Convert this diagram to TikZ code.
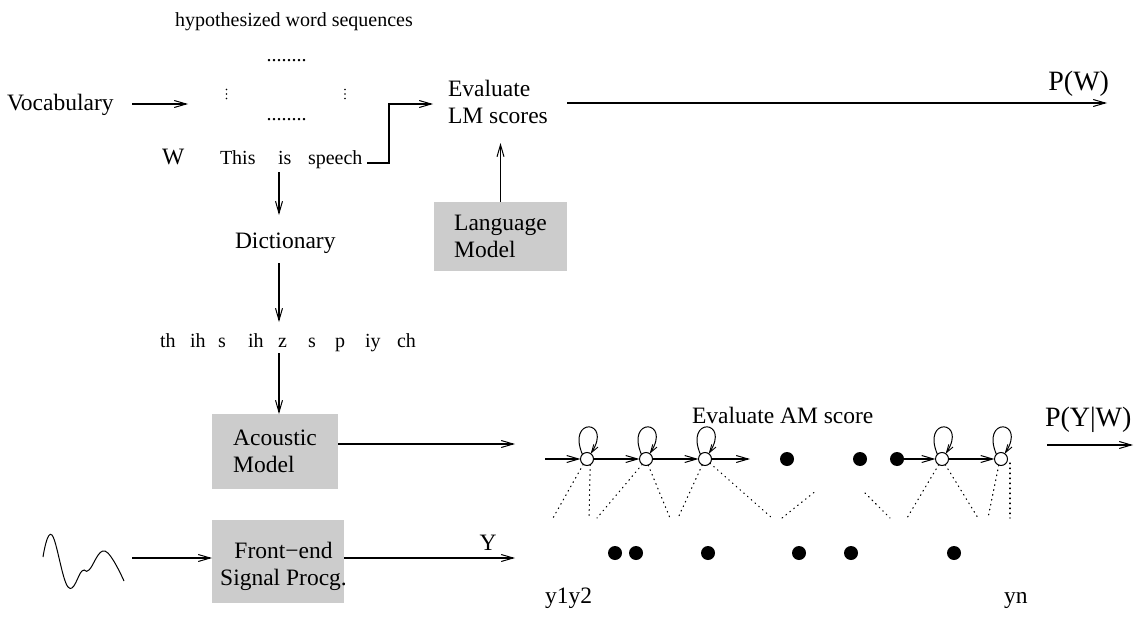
\documentclass[tikz,border=0pt]{standalone}
\usepackage{fontspec}
\setmainfont{Liberation Serif}
\usetikzlibrary{arrows.meta}
\definecolor{boxgray}{gray}{0.8}
\begin{document}
\begin{tikzpicture}[x=1pt,y=-1pt,
  every node/.style={inner sep=0pt,outer sep=0pt},
  big/.style={font=\fontsize{23.5}{27}\selectfont},
  prob/.style={font=\fontsize{28}{30}\selectfont},
  small/.style={font=\fontsize{20}{22}\selectfont},
  wire/.style={line width=1.1pt},
  conn/.style={wire,-{Straight Barb[length=12pt,width=7pt,line width=1pt]}},
  loopconn/.style={line width=1pt,-{Straight Barb[length=8pt,width=5pt,line width=0.9pt]}},
  gbox/.style={fill=boxgray,minimum width=#1},
  obs/.style={dash pattern=on 0.8pt off 4.2pt,line width=1.1pt,line cap=round},
  state/.style={circle,draw,line width=1pt,minimum size=13pt,fill=white},
  blob/.style={circle,fill=black,minimum size=14pt},
  tinydot/.style={circle,fill=black,minimum size=1.6pt},
]
\useasboundingbox (0,0) rectangle (1137,623);

% ---------- word hypotheses ----------
\node[small,anchor=base] (hyp) at (294,27) {hypothesized word sequences};
\node[small,anchor=base] (dtop) at (286.5,62) {........};
\foreach \x/\s in {226.5/l,345/r}
  \foreach \y [count=\k] in {89.5,94,98.5}
    \node[tinydot] (v\s\k) at (\x,\y) {};
\node[small,anchor=base] (dbot) at (286.5,121) {........};
\node[big,anchor=base west] (vocab) at (7,111) {Vocabulary};
\node[big,anchor=base west] (W) at (162,164) {W};
\node[small,anchor=base west] (this) at (220,164) {This};
\node[small,anchor=base west] (is) at (278,164) {is};
\node[small,anchor=base west] (speech) at (308,164) {speech};

\coordinate (vocout) at (132,104);
\coordinate (hypin) at (188,104);
\draw[conn] (vocout) -- (hypin);

% ---------- language model branch ----------
\node[big,align=left,anchor=west] (evlm) at (448,102) {Evaluate\\LM scores};
\node[big,gbox=133pt,minimum height=69pt,align=left] (lm) at (500.5,236.5) {Language\\Model};
\coordinate (spout) at (367,163);
\coordinate (bend) at (389,104);
\coordinate (evin) at (433,104);
\draw[conn] (spout) -| (bend) -- (evin);
\coordinate (evup) at (500.5,143);
\draw[conn] (lm.north) -- (evup);
\coordinate (evout) at (567,103);
\coordinate (pwend) at (1107,103);
\draw[conn] (evout) -- (pwend);
\node[prob,anchor=base east] (pw) at (1109,91) {P(W)};

% ---------- pronunciation ----------
\node[big,anchor=base west] (dict) at (235,248) {Dictionary};
\coordinate (isdown) at (279,172);
\coordinate (dictin) at (279,215);
\draw[conn] (isdown) -- (dictin);
\coordinate (dictout) at (279,263);
\coordinate (phin) at (279,322);
\draw[conn] (dictout) -- (phin);
\foreach \p/\x [count=\i] in {th/160,ih/190,s/218,ih/248,z/278,s/308,p/335,iy/365,ch/397}
  \node[small,anchor=base west] (ph\i) at (\x,347) {\p};
\coordinate (phout) at (279,353);

% ---------- acoustic model and front end ----------
\node[big,gbox=126pt,minimum height=75pt,align=left] (am) at (275,451.5) {Acoustic\\Model};
\draw[conn] (phout) -- (phout |- am.north);
\coordinate (amout) at (338,444);
\coordinate (amend) at (515,444);
\draw[conn] (amout) -- (amend);

\node[gbox=132pt,minimum height=83pt] (fe) at (278,561.5) {};
\node[big,align=center] (fetext) at (283.5,566) {Front−end\\Signal Procg.};
\draw[line width=1pt] plot[smooth,tension=0.7] coordinates
  {(43,557) (52,535) (68,587) (82,571) (89,570) (105,551) (124,581)};
\coordinate (wavout) at (132,558);
\draw[conn] (wavout) -- (wavout -| fe.west);
\coordinate (feout) at (344,558);
\coordinate (yend) at (515,558);
\draw[conn] (feout) -- (yend);
\node[big,anchor=base] (Y) at (488,550) {Y};

% ---------- HMM alignment ----------
\node[big,anchor=base west] (evam) at (692,423) {Evaluate AM score};
\foreach \n/\x in {s1/587,s2/646,s3/705,s4/942,s5/1001}
  \node[state] (\n) at (\x,459) {};
\foreach \n/\x in {d1/787,d2/860,d3/897}
  \node[blob] (\n) at (\x,459) {};
\coordinate (hmmin) at (545,459);
\coordinate (s3out) at (750,459);
\draw[conn] (hmmin) -- (s1);
\draw[conn] (s1) -- (s2);
\draw[conn] (s2) -- (s3);
\draw[conn] (s3) -- (s3out);
\draw[conn] (d3) -- (s4);
\draw[conn] (s4) -- (s5);
\foreach \n in {s1,s2,s3,s4,s5}
  \draw[loopconn] (\n.135) .. controls +(-16,-38) and +(22,-34) .. (\n.55);

\coordinate (pywout) at (1047,445);
\coordinate (pywend) at (1133,445);
\draw[conn] (pywout) -- (pywend);
\node[prob,anchor=base west] (pyw) at (1045,426) {P(Y|W)};

% observation frames
\foreach \x [count=\i] in {615,636,708,799,851,954}
  \node[blob] (b\i) at (\x,553) {};
\node[big,anchor=base west] (y12) at (545,603) {y1y2};
\node[big,anchor=base west] (yn) at (1004,603) {yn};

% dotted state-to-frame alignments
\coordinate (o1) at (553,518);  \coordinate (o2) at (589,518);
\coordinate (o3) at (597,518);  \coordinate (o4) at (670,518);
\coordinate (o5) at (678,518);  \coordinate (o6) at (772,518);
\coordinate (o7) at (782,518);  \coordinate (o8) at (817,490);
\coordinate (o9) at (865,493);  \coordinate (o10) at (890,518);
\coordinate (o11) at (907,518); \coordinate (o12) at (978,518);
\coordinate (o13) at (988,518); \coordinate (o14) at (1010,518);
\coordinate (o15) at (1010,463);
\draw[obs] (s1.235) -- (o1);
\draw[obs] (s1.300) -- (o2);
\draw[obs] (s2.235) -- (o3);
\draw[obs] (s2.290) -- (o4);
\draw[obs] (s3.245) -- (o5);
\draw[obs] (s3.320) -- (o6);
\draw[obs] (o7) -- (o8);
\draw[obs] (o9) -- (o10);
\draw[obs] (s4.240) -- (o11);
\draw[obs] (s4.300) -- (o12);
\draw[obs] (s5.250) -- (o13);
\draw[obs] (o15) -- (o14);
\end{tikzpicture}
\end{document}
